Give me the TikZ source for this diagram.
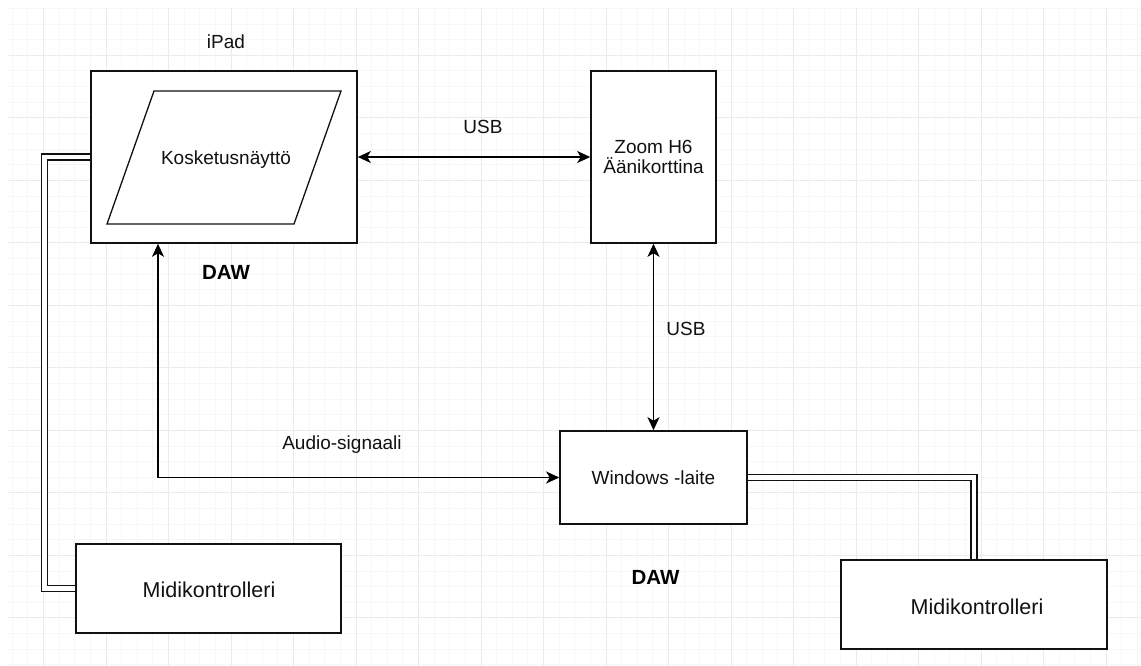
\documentclass[tikz,border=0pt]{standalone}
\usepackage{fontspec}
\setmainfont{Liberation Sans}
\usetikzlibrary{arrows.meta}
\definecolor{gridminor}{HTML}{F7F7F7}
\definecolor{gridmajor}{HTML}{EBEBEB}
\definecolor{ink}{HTML}{111111}
\tikzset{
  box/.style={draw=ink, line width=1.6pt, fill=white, inner sep=0pt},
  lbl/.style={font=\fontsize{19}{22}\selectfont, text=ink, inner sep=0pt},
  biglbl/.style={font=\fontsize{21.5}{25}\selectfont, text=ink, inner sep=0pt},
  daw/.style={font=\fontsize{20.5}{24}\selectfont\bfseries, text=black, inner sep=0pt},
  arr/.style={draw=black, line width=1.6pt, {Stealth[length=13pt,width=12pt,inset=3.5pt]}-{Stealth[length=13pt,width=12pt,inset=3.5pt]}},
  link/.style={draw=ink, line width=1.5pt, double=white, double distance=4.5pt, line join=miter},
}
\begin{document}
\begin{tikzpicture}[x=1pt,y=-1pt]
\useasboundingbox (0,0) rectangle (1141,666);
\fill[white] (0,0) rectangle (1141,666);
% grid
\foreach \i in {0,...,72} {
  \pgfmathsetmacro{\gx}{12.25+15.625*\i}
  \draw[gridminor, line width=0.8pt] (\gx,8) -- (\gx,666);
}
\foreach \i in {0,...,42} {
  \pgfmathsetmacro{\gy}{8.4+15.625*\i}
  \draw[gridminor, line width=0.8pt] (8,\gy) -- (1141,\gy);
}
\foreach \i in {0,...,17} {
  \pgfmathsetmacro{\gx}{43.5+62.5*\i}
  \draw[gridmajor, line width=1pt] (\gx,8) -- (\gx,666);
}
\foreach \i in {0,...,9} {
  \pgfmathsetmacro{\gy}{55.3+62.5*\i}
  \draw[gridmajor, line width=1pt] (8,\gy) -- (1141,\gy);
}

% nodes
\node[box, minimum width=266pt, minimum height=172pt] (ipad) at (224,157) {};
\draw[ink, line width=1.3pt] (154,91) -- (341,91) -- (294,224) -- (107,224) -- cycle;
\node[lbl] (kos) at (226,160) {Kosketusnäyttö};
\node[lbl] (ipadlbl) at (226,42) {iPad};
\node[daw] (daw1) at (226,272) {DAW};

\node[box, minimum width=125pt, minimum height=172pt] (zoom) at (653.5,157) {};
\node[lbl, align=center] (zoomlbl) at (653.5,157) {Zoom H6\\[-2pt]Äänikorttina};

\node[box, minimum width=187pt, minimum height=93pt] (win) at (653.5,477.5) {};
\node[lbl] (winlbl) at (653.5,478) {Windows -laite};
\node[daw] (daw2) at (655.5,577) {DAW};

\node[box, minimum width=265pt, minimum height=89pt] (midi1) at (208.5,588.5) {};
\node[biglbl] (midi1lbl) at (209,590) {Midikontrolleri};

\node[box, minimum width=266pt, minimum height=89pt] (midi2) at (974,604.5) {};
\node[biglbl] (midi2lbl) at (977,607) {Midikontrolleri};

% corner coordinates
\coordinate (c1) at (44.5,157);
\coordinate (c2) at (44.5,588.5);
\coordinate (c3) at (974,477.5);
\coordinate (a1) at (158,477.5);

% connectors
\draw[arr] (ipad.east) -- (zoom.west|-ipad.east);
\node[lbl] (usb1) at (483,127) {USB};
\draw[arr] (zoom.south) -- (win.north);
\node[lbl] (usb2) at (686,329) {USB};
\draw[arr] (ipad.south-|a1) -- (a1) -- (win.west);
\node[lbl] (audio) at (342,445) {Audio-signaali};

\draw[link] (ipad.west) -- (c1) -- (c2) -- (midi1.west);
\draw[link] (win.east) -- (c3) -- (midi2.north);
\end{tikzpicture}
\end{document}
